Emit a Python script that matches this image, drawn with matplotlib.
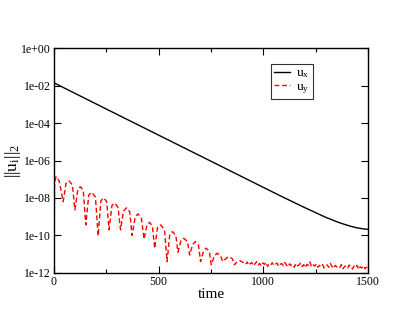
import numpy as np
import matplotlib
matplotlib.use("Agg")
import matplotlib.pyplot as plt
from matplotlib.ticker import FixedLocator, MultipleLocator

plt.rcParams['font.family'] = ['Liberation Serif', 'DejaVu Serif']
plt.rcParams['mathtext.fontset'] = 'custom'
plt.rcParams['mathtext.rm'] = 'Liberation Serif'
plt.rcParams['mathtext.it'] = 'Liberation Serif'

# u_x : black solid
t_ux = [0, 250, 500, 750, 1000, 1100, 1200, 1250, 1300, 1325, 1350, 1375,
        1400, 1425, 1450, 1475, 1500]
ux = [1.41e-2, 5.6e-4, 2.26e-5, 9.1e-7, 3.65e-8, 1.02e-8, 2.95e-9, 1.63e-9,
      9.0e-10, 7.0e-10, 5.4e-10, 4.3e-10, 3.5e-10, 2.9e-10, 2.5e-10,
      2.25e-10, 2.1e-10]

# u_y : red dashed (log10 values)
t_uy = [0, 3, 10, 25, 44, 58, 72, 88, 100, 114, 126, 140, 152, 166, 180, 198,
        211, 224, 238, 252, 263, 277, 290, 306, 318, 332, 346, 362, 373, 388,
        402, 418, 430, 444, 456, 470, 481, 494, 510, 528, 540, 553, 566, 582,
        592, 606, 620, 638, 648, 662, 675, 690, 700, 714, 726, 742, 751, 766,
        779, 796, 806, 820, 834, 852, 862, 875, 890]
log_uy = [-12.0, -7.2, -6.86, -7.1, -8.2, -7.2, -7.09, -7.3, -8.64, -7.55,
          -7.4, -7.6, -9.44, -7.85, -7.7, -7.95, -10.03, -8.15, -8.0, -8.2,
          -9.7, -8.4, -8.27, -8.5, -9.7, -8.7, -8.53, -8.75, -10.0, -9.0,
          -8.85, -9.1, -10.2, -9.45, -9.3, -9.5, -10.7, -9.6, -9.44, -9.7,
          -11.4, -9.95, -9.8, -10.0, -10.9, -10.3, -10.15, -10.35, -11.05,
          -10.5, -10.33, -10.5, -11.4, -10.85, -10.68, -10.85, -11.57, -11.1,
          -10.95, -11.1, -11.4, -11.25, -11.13, -11.25, -11.57, -11.4, -11.35]

# noisy tail, t = 907.5 ... 1500 every 7.5
log_tail = [-11.48, -11.55, -11.42, -11.60, -11.50, -11.45, -11.62, -11.52, -11.40, -11.58,
            -11.50, -11.63, -11.47, -11.55, -11.44, -11.66, -11.52, -11.58, -11.46, -11.60,
            -11.53, -11.48, -11.65, -11.55, -11.50, -11.62, -11.45, -11.58, -11.68, -11.52,
            -11.60, -11.55, -11.70, -11.50, -11.62, -11.58, -11.48, -11.66, -11.56, -11.72,
            -11.55, -11.60, -11.42, -11.68, -11.58, -11.64, -11.52, -11.70, -11.60, -11.66,
            -11.55, -11.74, -11.62, -11.58, -11.70, -11.50, -11.66, -11.76, -11.60, -11.68,
            -11.64, -11.72, -11.56, -11.78, -11.66, -11.62, -11.74, -11.58, -11.70, -11.80,
            -11.64, -11.72, -11.60, -11.82, -11.68, -11.74, -11.62, -11.78, -11.70, -11.76]
t_tail = 900 + 7.5 * np.arange(1, len(log_tail) + 1)

y_ticks = [1e0, 1e-2, 1e-4, 1e-6, 1e-8, 1e-10, 1e-12]
y_labels = ["1e+00", "1e-02", "1e-04", "1e-06", "1e-08", "1e-10", "1e-12"]
x_ticks = [0, 500, 1000, 1500]

t_y = np.concatenate([t_uy, t_tail])
uy = 10.0 ** np.concatenate([log_uy, log_tail])

fig = plt.figure(figsize=(4.15, 3.21), dpi=100)
ax = fig.add_axes([0.130, 0.150, 0.757, 0.700])

ax.plot(t_ux, ux, color='black', lw=1.0, label=r'u$_\mathregular{x}$')
ax.plot(t_y, uy, color='red', lw=1.0, dashes=(3.5, 2), label=r'u$_\mathregular{y}$')

ax.set_yscale('log')
ax.set_xlim(0, 1500)
ax.set_ylim(1e-12, 1e0)
ax.yaxis.set_major_locator(FixedLocator(y_ticks))
ax.yaxis.set_minor_locator(FixedLocator([]))
ax.set_yticks(y_ticks, y_labels)
ax.set_xticks(x_ticks)
ax.xaxis.set_minor_locator(MultipleLocator(250))

ax.tick_params(which='both', direction='in', top=True, right=True, labelsize=8.5)
ax.tick_params(which='major', length=5, width=0.8, pad=2)
ax.tick_params(which='minor', length=3, width=0.8)
for s in ax.spines.values():
    s.set_linewidth(1.0)

ax.set_xlabel('time', fontsize=11, labelpad=0)
ax.set_ylabel(r'$\mathregular{||u_i||_2}$', fontsize=12.5)
ax.yaxis.set_label_coords(-0.100, 0.5)

leg = ax.legend(loc='upper left', bbox_to_anchor=(0.69, 0.93), fontsize=9.5,
                frameon=True, fancybox=False, edgecolor='black',
                handlelength=1.2, handletextpad=0.5, borderpad=0.25,
                labelspacing=0.05, borderaxespad=0)
leg.get_frame().set_linewidth(0.8)

fig.savefig('out.png', dpi=100)
